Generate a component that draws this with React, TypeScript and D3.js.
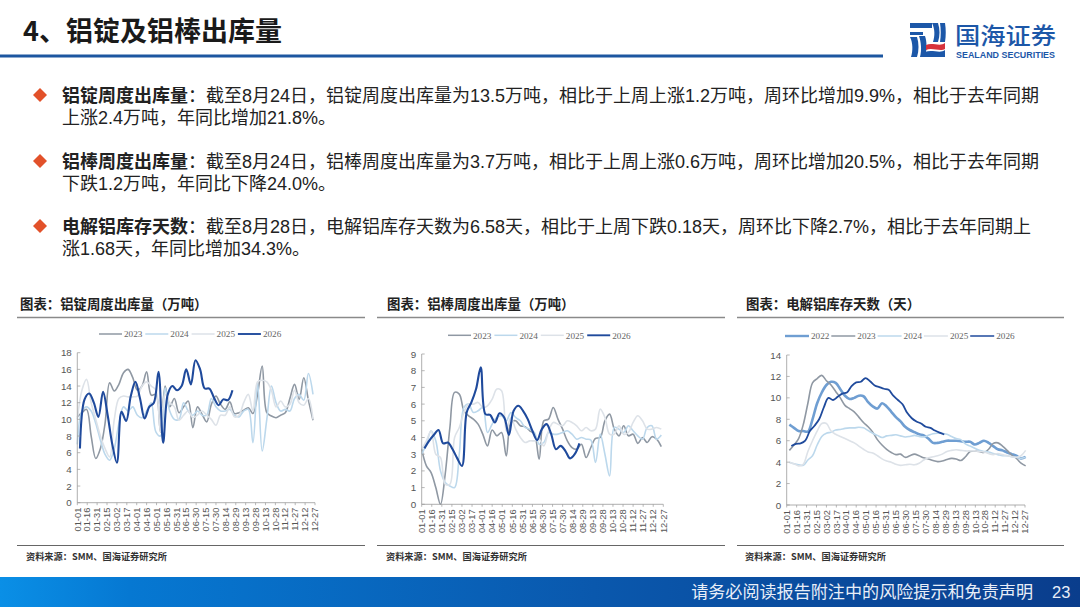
import React from "react";
import * as d3 from "d3";

const tickLabels = ["01-01","01-16","01-31","02-15","03-02","03-17","04-01","04-16","05-01","05-16","05-31","06-15","06-30","07-15","07-30","08-14","08-29","09-13","09-28","10-13","10-28","11-12","11-27","12-12","12-27"];

const ingot2023 = [10.3,10.8,11.2,8,5.3,6.5,9.5,14.4,13.4,14.2,15.6,16,15,13.5,14,15.7,12.9,13,8.5,14,11.5,12.5,10.8,11.5,12.2,9,11.5,10.6,9.7,11.8,12.8,11.8,11.2,12.1,10.7,10.8,11.1,11.4,10.7,13,16.4,10.8,10.4,10.2,10.5,10.8,12.5,14.2,12.4,15,12.3,9.9];
const ingot2024 = [7,11,11.5,11,9.5,7.5,5.8,5.1,6.5,9.5,11.5,11,11.5,10.5,10.2,11,12,8.5,8,13.8,11,10,10,12,11,10.5,11,10.5,10.5,12.5,11.5,11,11,11.2,10.5,10.3,11,11.2,7.2,14.4,6.2,10,14,12,11,11.2,11,12.5,13,12.3,15.5,13];
const ingot2025 = [10,13.5,14.8,12,10,8,6.5,5.5,10,12.5,12.8,12.7,12.7,12.8,14,14.5,14,13.5,8.5,13,12,11.5,9.9,10.5,11,10.2,10.5,11,10.5,10,9.3,10.5,10.5,11.5,10.3,10.5,12,13,11,14.5,14.7,14.5,13.5,11.5,12.2,11.5,11.8,13.5,12,11.7,12.5,10];
const ingot2026 = [6.5,12.4,13.1,12,10.3,13.3,10.5,7,4.8,10.9,9.8,12.8,14.5,12.5,10.1,11.5,12,15.7,7.2,13,14,13.5,14,16,14.2,17.1,16,13.7,13.7,12.6,11.7,12.4,12.3,13.5];

const rod2023 = [3.3,2.3,1.9,1,0,1.8,4.6,6.7,6.6,5.6,5.3,5.1,4.8,4.2,3.5,4.45,4.1,4.3,2.9,4.9,5,4.7,4.65,4.4,4.2,2.7,5,5.1,5.8,5.1,4.5,3.8,3.4,3.3,3.6,2.8,3.4,3.95,4,5,5.4,4.5,4.1,4.7,4.1,4.2,3.65,4,3.7,4.05,3.9,3.45];
const rod2024 = [3,3.6,4.4,3.8,2,1.3,1.1,1,3,5.8,6,5.5,5.6,5.8,4.3,4.8,5.2,5.3,5,5.5,5.2,5,4.6,4.5,4.3,3.6,3.7,4.3,4.2,4.2,4.3,4.4,4.2,3.9,4,3.9,3.85,2.5,4.2,3,1.7,4.6,4.5,4.3,4.7,4.4,4.1,3.9,4.6,4.7,3.9,4.15];
const rod2025 = [3.3,3.8,4.4,3,2.8,1.2,1.2,4,4.6,5.5,6,6,6.1,5.8,5.9,6.3,6.9,6.8,4.4,5.2,4.5,4,3.7,3.8,3.8,3.9,3.5,4.4,4.9,4.8,4.7,5,4.9,4.7,4.4,4.6,4.4,4.5,5.7,5.2,4.2,4.2,4.7,4.2,4.3,4.9,5.3,5,4.5,4.5,4.6,4.5];
const rod2026 = [3.35,3.8,4.15,4.45,3.65,3.7,3.3,2.75,2.3,5.5,6.1,6.9,8.2,5.4,5.35,4.9,5.45,5.2,4.15,5.6,5.9,5.6,5.1,4.4,3.85,4.5,4.8,4.2,3.3,3.5,3.2,2.75,3,3.65];

const days2022 = [7.5,7.2,6.9,6.9,6.85,8,9.5,10.5,11.2,11.5,11.4,10.8,10.2,9.9,10,10.2,10.15,9.6,9.2,9,9.5,9.2,8.7,8.2,7.8,7.3,7,6.8,6.6,6.5,6.2,5.8,5.8,5.9,6,6,6,5.95,5.9,5.9,5.65,5.8,6,5.8,5.5,5.2,5.1,4.9,4.75,4.6,4.35,4.5];
const days2023 = [5.1,5.6,6.2,7.5,9.5,11.4,11.8,12.1,11.6,11.2,10.6,10,9.3,9,8.7,8.2,7.7,7.3,6.8,6.1,5.6,5.2,4.9,4.7,4.75,4.45,4.6,4.75,4.6,4.4,4.3,4.15,4.05,4.1,4.25,4.35,4.3,4.15,4.5,5,5.05,5,4.9,5.2,5.75,5.8,5.5,5.1,4.65,4.35,3.9,3.65];
const days2024 = [4,3.85,3.75,3.7,4.2,4.6,5.6,6.4,6.7,6.8,7,7.05,7.15,7.2,7.2,7.25,7.2,6.95,6.7,6.5,6.3,6.45,6.5,6.55,6.45,6.35,6.4,6.5,6.4,6.35,6.5,6.65,6.7,6.7,6.6,6.4,6.2,6.1,5.7,5.5,5.3,5.1,5,4.95,4.8,4.7,4.6,4.6,4.5,4.45,4.35,4.45];
const days2025 = [4,3.85,3.65,3.8,5,6,6.9,7.6,7.6,6.9,6.6,6.4,6.2,6,5.8,5.5,5.2,4.95,4.85,4.6,4.3,4.1,4,3.8,3.7,3.75,3.8,3.75,3.9,4.2,4.4,4.5,4.6,4.75,5,5.1,5.15,5.1,5.05,5.05,5.05,5,4.95,4.8,4.7,4.8,4.7,4.6,4.5,4.45,4.6,5.1];
const days2026 = [5.5,5.7,5.75,6,6.9,7.4,8,9.1,10,9.8,10.1,10.4,10.5,11.1,11.45,11.5,11.85,11.55,11.15,11,10.85,10.75,10.2,9.8,9.4,8.6,8.1,7.8,7.6,7.3,7.2,6.95,6.75,6.58];

const C2022 = "#6f9ed2";
const C2023 = "#8f98a3";
const C2024 = "#bcd8ec";
const C2025 = "#dde2e8";
const C2026 = "#1f4a9c";

const SANS = "'Liberation Sans','Noto Sans CJK SC',sans-serif";
const CJK = "'Noto Sans CJK SC','Liberation Sans',sans-serif";
const SERIF = "'Liberation Serif',serif";

const bullets = [
  { y: 95, head: "铝锭周度出库量", line1: "：截至8月24日，铝锭周度出库量为13.5万吨，相比于上周上涨1.2万吨，周环比增加9.9%，相比于去年同期", line2: "上涨2.4万吨，年同比增加21.8%。" },
  { y: 161, head: "铝棒周度出库量", line1: "：截至8月24日，铝棒周度出库量为3.7万吨，相比于上周上涨0.6万吨，周环比增加20.5%，相比于去年同期", line2: "下跌1.2万吨，年同比下降24.0%。" },
  { y: 226, head: "电解铝库存天数", line1: "：截至8月28日，电解铝库存天数为6.58天，相比于上周下跌0.18天，周环比下降2.7%，相比于去年同期上", line2: "涨1.68天，年同比增加34.3%。" },
];

type S = { name: string; values: number[]; color: string; width: number; start: number };
type ChartProps = {
  title: string; titleX: number; ruleX: [number, number]; sourceX: number;
  x0: number; x1: number; y0: number; y1: number; yMax: number; yStep: number;
  series: S[]; legendX: number; legendY: number; legendStep: number; sampleW: number;
};

function Chart(p: ChartProps) {
  const x = d3.scaleLinear().domain([0, 360]).range([p.x0, p.x1]);
  const y = d3.scaleLinear().domain([0, p.yMax]).range([p.y0, p.y1]);
  const line = d3.line<{ d: number; v: number }>().x(o => x(o.d)).y(o => y(o.v)).curve(d3.curveCatmullRom.alpha(0.5));
  const yTicks = d3.range(0, p.yMax + 0.001, p.yStep);
  const axis = "#9a9a9a";
  return (
    <g>
      <text x={p.titleX} y={308.5} fontFamily={CJK} fontSize={13.4} fontWeight={700} fill="#222">{p.title}</text>
      <line x1={p.ruleX[0]} x2={p.ruleX[1]} y1={317.5} y2={317.5} stroke="#8a8a8a" strokeWidth={1.6} />
      {p.series.map((s, i) => {
        const lx = p.legendX + i * p.legendStep;
        return (
          <g key={s.name}>
            <line x1={lx} x2={lx + p.sampleW} y1={p.legendY} y2={p.legendY} stroke={s.color} strokeWidth={s.width > 1.9 ? s.width - 0.2 : 1.5} />
            <text x={lx + p.sampleW + 2} y={p.legendY + 3.2} fontFamily={SERIF} fontSize={9.2} fill="#666">{s.name}</text>
          </g>
        );
      })}
      {p.series.map(s => (
        <path key={s.name} fill="none" stroke={s.color} strokeWidth={s.width} strokeLinejoin="round"
          d={line(s.values.map((v, i) => ({ d: s.start + i * 7, v }))) || ""} />
      ))}
      <line x1={p.x0} x2={p.x0} y1={y(p.yMax)} y2={p.y0} stroke={axis} strokeWidth={0.8} />
      <line x1={p.x0} x2={p.x1} y1={p.y0} y2={p.y0} stroke={axis} strokeWidth={0.8} />
      {yTicks.map(t => (
        <g key={t}>
          <line x1={p.x0} x2={p.x0 + 3} y1={y(t)} y2={y(t)} stroke={axis} strokeWidth={0.7} />
          <text x={p.x0 - 5.5} y={y(t) + 3.5} textAnchor="end" fontFamily={SANS} fontSize={9.8} fill="#555">{t}</text>
        </g>
      ))}
      {tickLabels.map((t, i) => {
        const tx = x(i * 15);
        return (
          <g key={t}>
            <line x1={tx} x2={tx} y1={p.y0} y2={p.y0 + 2.5} stroke={axis} strokeWidth={0.7} />
            <text transform={`translate(${tx + 3.2},${p.y0 + 5}) rotate(-90)`} textAnchor="end" fontFamily={SANS} fontSize={9.3} fill="#555">{t}</text>
          </g>
        );
      })}
      <line x1={p.ruleX[0]} x2={p.ruleX[1]} y1={545.5} y2={545.5} stroke="#555" strokeWidth={0.9} />
      <text x={p.sourceX} y={560} fontFamily={CJK} fontSize={9.2} fontWeight={700} fill="#333">资料来源：SMM、国海证券研究所</text>
    </g>
  );
}

function Logo() {
  const blue = "#1c57a8";
  return (
    <g>
      <path d="M910 23 H932 V28 H910 Z M910 32 H923 V35 H910 Z" fill={blue} />
      <path d="M910 37 C913 43 913 51 911 57 H917 C919 51 919 43 917 37 Z" fill={blue} />
      <path d="M919 36 C921 42 922 50 920 57 H925 C927 50 927 42 925 36 Z" fill={blue} />
      <path d="M932 23 C935 29 935 36 933 42 H938 C940 36 940 29 938 23 Z" fill={blue} />
      <path d="M940 23 H945 C946 29 946 36 945 42 H940 C941 36 941 29 940 23 Z" fill={blue} />
      <path d="M926 45 C932 42 940 47 945 43 V49 C940 52 932 47 926 50 Z" fill="#d7323c" />
      <path d="M925 52 C932 49 940 54 945 50 V57 H925 Z" fill={blue} />
      <text x={955} y={44} fontFamily={CJK} fontSize={23} fontWeight={500} fill={blue} textLength={101} lengthAdjust="spacingAndGlyphs">国海证券</text>
      <text x={956} y={57.5} fontFamily={SANS} fontSize={9.4} fontWeight={700} fill={blue} textLength={99} lengthAdjust="spacingAndGlyphs">SEALAND SECURITIES</text>
    </g>
  );
}

export default function App() {
  return (
    <svg width={1080} height={607} viewBox="0 0 1080 607" style={{ position: "fixed", left: 0, top: 0, background: "#fff" }}>
      <defs>
        <linearGradient id="foot" x1="0" x2="1" y1="0" y2="0">
          <stop offset="0" stopColor="#0a8fe6" />
          <stop offset="0.12" stopColor="#0678d2" />
          <stop offset="0.55" stopColor="#0a58ad" />
          <stop offset="1" stopColor="#0a3d8c" />
        </linearGradient>
      </defs>
      <text x={23} y={41} fontFamily={CJK} fontSize={27} fontWeight={700} fill="#1a1a1a">4、铝锭及铝棒出库量</text>
      <rect x={0} y={54.5} width={883} height={3} fill="#1c56a0" />
      <Logo />
      {bullets.map(b => (
        <g key={b.head}>
          <path d={`M33 ${b.y} L40 ${b.y - 7} L47 ${b.y} L40 ${b.y + 7} Z`} fill="#e2512a" />
          <text x={62} y={b.y + 6.5} fontFamily={SANS} fontSize={18} fill="#222">
            <tspan fontFamily={CJK} fontWeight={700}>{b.head}</tspan>
            <tspan>{b.line1}</tspan>
          </text>
          <text x={62} y={b.y + 28.5} fontFamily={SANS} fontSize={18} fill="#222">{b.line2}</text>
        </g>
      ))}
      <Chart title="图表：铝锭周度出库量（万吨）" titleX={20} ruleX={[17, 365]} sourceX={26}
        x0={77.3} x1={315} y0={502.7} y1={352.7} yMax={18} yStep={2}
        legendX={99} legendY={334} legendStep={46.3} sampleW={23}
        series={[
          { name: "2023", values: ingot2023, color: C2023, width: 1.6, start: 0 },
          { name: "2024", values: ingot2024, color: C2024, width: 1.6, start: 0 },
          { name: "2025", values: ingot2025, color: C2025, width: 1.6, start: 0 },
          { name: "2026", values: ingot2026, color: C2026, width: 2.1, start: 4 },
        ]} />
      <Chart title="图表：铝棒周度出库量（万吨）" titleX={387} ruleX={[377, 725]} sourceX={386}
        x0={421.7} x1={663.3} y0={504.3} y1={354} yMax={9} yStep={1}
        legendX={448} legendY={335.3} legendStep={46.4} sampleW={23}
        series={[
          { name: "2023", values: rod2023, color: C2023, width: 1.6, start: 0 },
          { name: "2024", values: rod2024, color: C2024, width: 1.6, start: 0 },
          { name: "2025", values: rod2025, color: C2025, width: 1.6, start: 0 },
          { name: "2026", values: rod2026, color: C2026, width: 2.1, start: 4 },
        ]} />
      <Chart title="图表：电解铝库存天数（天）" titleX={746} ruleX={[737, 1064]} sourceX={745}
        x0={786.7} x1={1025} y0={505} y1={355} yMax={14} yStep={2}
        legendX={785} legendY={336} legendStep={46.3} sampleW={24}
        series={[
          { name: "2022", values: days2022, color: C2022, width: 2.6, start: 4 },
          { name: "2023", values: days2023, color: C2023, width: 1.6, start: 4 },
          { name: "2024", values: days2024, color: C2024, width: 1.6, start: 4 },
          { name: "2025", values: days2025, color: C2025, width: 1.6, start: 4 },
          { name: "2026", values: days2026, color: C2026, width: 1.8, start: 7 },
        ]} />
      <rect x={0} y={577} width={1080} height={30} fill="url(#foot)" />
      <text x={1033} y={598} textAnchor="end" fontFamily={CJK} fontSize={17.1} fill="#e8eef8">请务必阅读报告附注中的风险提示和免责声明</text>
      <text x={1052} y={598} fontFamily={SANS} fontSize={16.5} fill="#e8eef8">23</text>
    </svg>
  );
}
